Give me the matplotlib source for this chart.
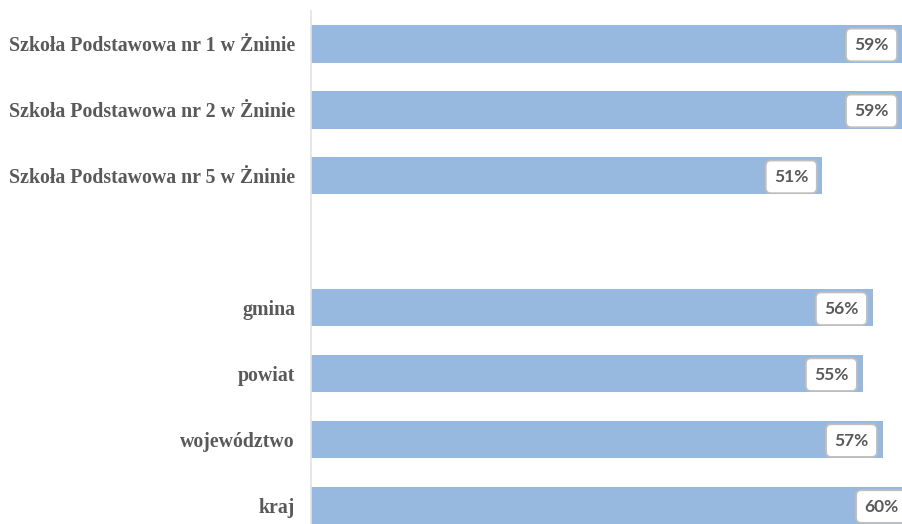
import matplotlib
matplotlib.use("Agg")
import matplotlib.pyplot as plt

categories = ["Szkoła Podstawowa nr 1 w Żninie", "Szkoła Podstawowa nr 2 w Żninie",
              "Szkoła Podstawowa nr 5 w Żninie", "", "gmina", "powiat", "województwo", "kraj"]
values = [59, 59, 51, None, 56, 55, 57, 60]

W, H = 902, 524
fig = plt.figure(figsize=(W / 100, H / 100), dpi=100)
ax = fig.add_axes([311 / W, 0, (W - 311) / W, (524 - 11) / H])

pos = list(range(len(categories)))
bar_color = "#97b9e0"
for p, v in zip(pos, values):
    if v is None:
        continue
    ax.barh(p, v, height=0.565, color=bar_color, zorder=2)
    ax.annotate(f"{v}%", xy=(v, p), xytext=(-14, -1), textcoords="offset pixels",
                ha="right", va="center", fontsize=12.5, fontweight="bold",
                family="Lato", color="#595959", annotation_clip=False, zorder=3,
                bbox=dict(boxstyle="round,pad=0.48,rounding_size=0.3",
                          fc="white", ec="#bfbfbf", lw=1.3))

ax.set_xlim(0, 58.93)
ax.set_ylim(7.28, -0.5)
ax.set_yticks(pos)
ax.set_yticklabels(categories, fontsize=14.3, fontweight="bold",
                   family="Liberation Serif", color="#595959")
ax.tick_params(axis="y", length=0, pad=11.5)
ax.set_xticks([])
for s in ["top", "right", "bottom"]:
    ax.spines[s].set_visible(False)
ax.spines["left"].set_color("#e3e3e3")
ax.spines["left"].set_linewidth(1.2)

fig.savefig("out.png", dpi=100)
